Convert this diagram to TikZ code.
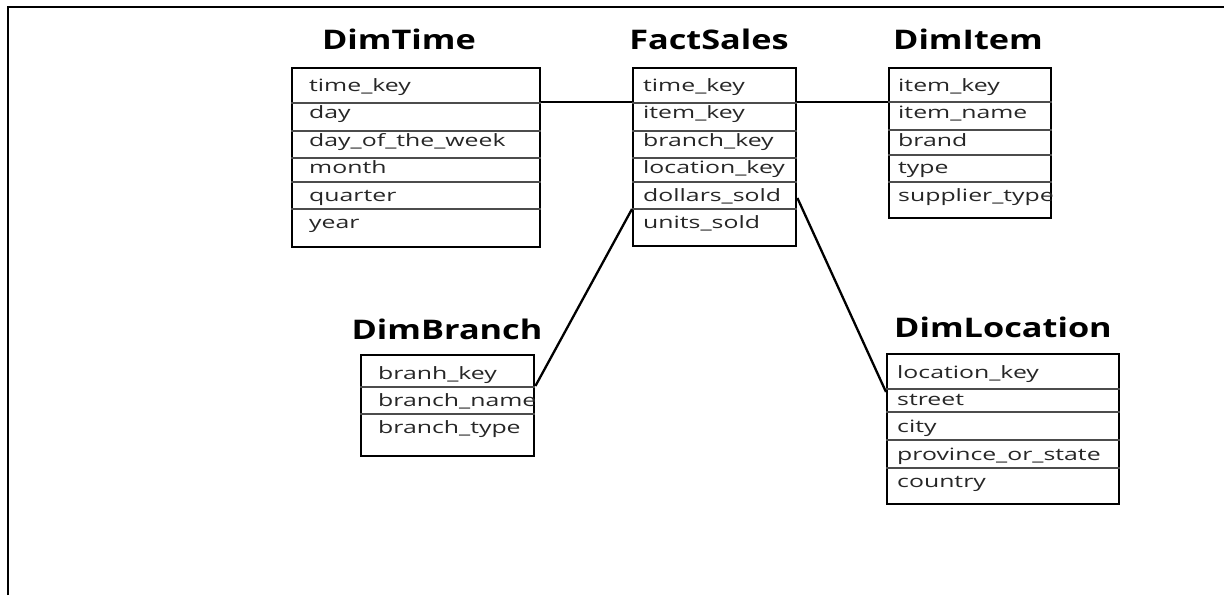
\documentclass[tikz,border=0pt]{standalone}
\usepackage{fontspec}
\usepackage{graphicx}
\setmainfont{Open Sans}
\newcommand\rowsx{1.46}
\newcommand\ttlsx{1.27}
\newcommand\rw[1]{\scalebox{\rowsx}[1]{#1}}
\newcommand\ttx[1]{\scalebox{\ttlsx}[1]{#1}}
\begin{document}
\begin{tikzpicture}[x=1pt,y=-1pt,
  tbl/.style={draw, line width=2.4pt, rectangle, inner sep=0pt, anchor=north west},
  sepline/.style={line width=1.1pt, draw=black!70},
  ttl/.style={font=\fontsize{27}{27}\selectfont\bfseries, inner sep=0pt, anchor=base},
  row/.style={font=\fontsize{17}{17}\selectfont, text=black!85, inner sep=0pt, anchor=base west},
  link/.style={line width=2.3pt},
  frame/.style={line width=2pt}]
\useasboundingbox (0,0) rectangle (1224,595);
\draw[frame] (8,595) -- (8,7) -- (1224,7);

% titles
\node[ttl] (tTime) at (399,49) {\ttx{DimTime}};
\node[ttl] (tFact) at (709,49) {\ttx{FactSales}};
\node[ttl] (tItem) at (968,49) {\ttx{DimItem}};
\node[ttl] (tBranch) at (447,339) {\ttx{DimBranch}};
\node[ttl] (tLoc) at (1003,337) {\ttx{DimLocation}};

% boxes
\node[tbl, minimum width=248pt, minimum height=179pt] (time) at (291,67) {};
\node[tbl, minimum width=163pt, minimum height=178pt] (fact) at (632,67) {};
\node[tbl, minimum width=162pt, minimum height=150pt] (item) at (888,67) {};
\node[tbl, minimum width=173pt, minimum height=101pt] (branch) at (360,354) {};
\node[tbl, minimum width=232pt, minimum height=150pt] (loc) at (886,353) {};

% separators
\foreach \y in {103,131,158,182,209}{
  \draw[sepline] (time.west |- 0,\y) -- (time.east |- 0,\y);
  \draw[sepline] (fact.west |- 0,\y) -- (fact.east |- 0,\y);
}
\foreach \y in {102,130,155,182}{
  \draw[sepline] (item.west |- 0,\y) -- (item.east |- 0,\y);
}
\foreach \y in {387,414}{
  \draw[sepline] (branch.west |- 0,\y) -- (branch.east |- 0,\y);
}
\foreach \y in {389,412,440,468}{
  \draw[sepline] (loc.west |- 0,\y) -- (loc.east |- 0,\y);
}

% rows DimTime
\node[row] (t1) at (309,91) {\rw{time\_key}};
\node[row] (t2) at (309,118) {\rw{day}};
\node[row] (t3) at (309,146) {\rw{day\_of\_the\_week}};
\node[row] (t4) at (309,173) {\rw{month}};
\node[row] (t5) at (309,201) {\rw{quarter}};
\node[row] (t6) at (309,228) {\rw{year}};
% rows FactSales
\node[row] (f1) at (643,91) {\rw{time\_key}};
\node[row] (f2) at (643,118) {\rw{item\_key}};
\node[row] (f3) at (643,146) {\rw{branch\_key}};
\node[row] (f4) at (643,173) {\rw{location\_key}};
\node[row] (f5) at (643,201) {\rw{dollars\_sold}};
\node[row] (f6) at (643,228) {\rw{units\_sold}};
% rows DimItem
\node[row] (i1) at (898,91) {\rw{item\_key}};
\node[row] (i2) at (898,118) {\rw{item\_name}};
\node[row] (i3) at (898,146) {\rw{brand}};
\node[row] (i4) at (898,173) {\rw{type}};
\node[row] (i5) at (898,201) {\rw{supplier\_type}};
% rows DimBranch
\node[row] (b1) at (378,379) {\rw{branh\_key}};
\node[row] (b2) at (378,406) {\rw{branch\_name}};
\node[row] (b3) at (378,433) {\rw{branch\_type}};
% rows DimLocation
\node[row] (l1) at (897,378) {\rw{location\_key}};
\node[row] (l2) at (897,405) {\rw{street}};
\node[row] (l3) at (897,432) {\rw{city}};
\node[row] (l4) at (897,460) {\rw{province\_or\_state}};
\node[row] (l5) at (897,487) {\rw{country}};

% connectors
\coordinate (k1) at (0,102);
\draw[link] (time.east |- k1) -- (fact.west |- k1);
\draw[link] (fact.east |- k1) -- (item.west |- k1);
\draw[link] (fact.west |- 0,209) -- (branch.east |- 0,386);
\draw[link] (fact.east |- 0,198) -- (loc.west |- 0,392);
\end{tikzpicture}
\end{document}
